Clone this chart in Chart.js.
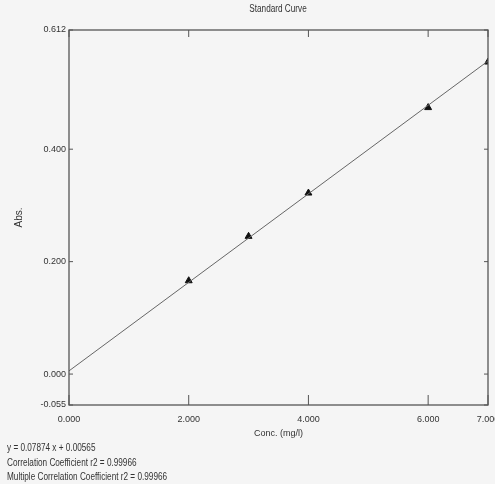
<!DOCTYPE html>
<html>
<head>
<meta charset="utf-8">
<script src="https://cdn.jsdelivr.net/npm/chart.js@4/dist/chart.umd.min.js"></script>
<style>
    html, body { margin: 0; padding: 0; background: #f5f5f5; }
    #wrap { position: relative; width: 495px; height: 484px; }
    .txt {
        position: absolute;
        font-family: "Liberation Sans", Arial, sans-serif;
        font-size: 10px; color: #333; white-space: nowrap;
    }
    #title { left: 178px; top: 3px; width: 200px; text-align: center; transform: scaleX(0.82); }
    #notes { left: 7px; top: 441px; line-height: 14.5px; transform: scaleX(0.82); transform-origin: left top; }
</style>
</head>
<body>
<div id="wrap">
    <canvas id="myChart" width="495" height="484"></canvas>
    <div id="title" class="txt">Standard Curve</div>
    <div id="notes" class="txt">
        <div>y = 0.07874 x + 0.00565</div>
        <div>Correlation Coefficient r2 = 0.99966</div>
        <div>Multiple Correlation Coefficient r2 = 0.99966</div>
    </div>
</div>
<script>
//! DATA
const conc = [2, 3, 4, 6, 7];
const abs = [0.166, 0.245, 0.322, 0.474, 0.555];
//* fitted line, ends at x = 0 and x = 7
const fitX = [0, 7];
const fitY = [0.00565, 0.55683];
const xTicks = [0, 2, 4, 6, 7];
const yTicks = [-0.055, 0, 0.2, 0.4, 0.612];

const FONT = '"Liberation Sans", Arial, sans-serif';
const TEXT = '#333';

//! FRAME + INNER TICK MARKS
const framePlugin = {
    id: 'frame',
    afterDraw(chart) {
        const { ctx, chartArea: a, scales } = chart;
        ctx.save();
        ctx.strokeStyle = '#555';
        ctx.lineWidth = 1.3;
        ctx.strokeRect(a.left, a.top, a.right - a.left, a.bottom - a.top);
        ctx.lineWidth = 1;
        ctx.beginPath();
        xTicks.forEach(v => {
            const px = scales.x.getPixelForValue(v);
            ctx.moveTo(px, a.bottom);
            ctx.lineTo(px, a.bottom - 10);
            ctx.moveTo(px, a.top);
            ctx.lineTo(px, a.top + 7);
        });
        yTicks.forEach(v => {
            const py = scales.y.getPixelForValue(v);
            ctx.moveTo(a.left, py);
            ctx.lineTo(a.left + 4, py);
            ctx.moveTo(a.right, py);
            ctx.lineTo(a.right - 4, py);
        });
        ctx.stroke();
        ctx.restore();
    }
};

//! CONFIG
const data = {
    datasets: [{
        label: 'Fit',
        data: fitX.map((x, i) => ({ x: x, y: fitY[i] })),
        showLine: true,
        borderColor: '#666',
        borderWidth: 1,
        pointRadius: 0
    },
    {
        label: 'Standards',
        data: conc.map((x, i) => ({ x: x, y: abs[i] })),
        showLine: false,
        pointStyle: 'triangle',
        pointRadius: 4,
        backgroundColor: '#111',
        borderColor: '#111',
        borderWidth: 1
    }]
};

const config = {
    type: 'scatter',
    data,
    options: {
        responsive: false,
        animation: false,
        layout: {
            autoPadding: false,
            padding: { left: 0, top: 30, right: 7, bottom: 0 }
        },
        plugins: {
            legend: { display: false },
            tooltip: { enabled: false },
            title: { display: false }
        },
        scales: {
            x: {
                type: 'linear',
                min: 0,
                max: 7,
                afterFit: s => { s.height = 79; s.paddingLeft = 0; s.paddingRight = 0; },
                afterBuildTicks: s => { s.ticks = xTicks.map(v => ({ value: v })); },
                grid: { display: false, drawTicks: false },
                border: { display: false },
                ticks: {
                    padding: 9,
                    maxRotation: 0,
                    color: TEXT,
                    font: { family: FONT, size: 9 },
                    callback: v => v.toFixed(3)
                },
                title: {
                    display: true,
                    text: 'Conc. (mg/l)',
                    color: TEXT,
                    font: { family: FONT, size: 9 },
                    padding: { top: 0, bottom: 45 }
                }
            },
            y: {
                type: 'linear',
                min: -0.055,
                max: 0.612,
                afterFit: s => { s.width = 69; s.paddingTop = 0; s.paddingBottom = 0; },
                afterBuildTicks: s => { s.ticks = yTicks.map(v => ({ value: v })); },
                grid: { display: false, drawTicks: false },
                border: { display: false },
                ticks: {
                    padding: 3,
                    color: TEXT,
                    font: { family: FONT, size: 9 },
                    callback: v => v.toFixed(3)
                },
                title: {
                    display: true,
                    text: 'Abs.',
                    color: TEXT,
                    font: { family: FONT, size: 10 },
                    padding: { top: 13, bottom: 0 }
                }
            }
        }
    },
    plugins: [framePlugin]
};

//! CREATE CHART
const myChart = new Chart(document.getElementById('myChart'), config);
</script>
</body>
</html>
